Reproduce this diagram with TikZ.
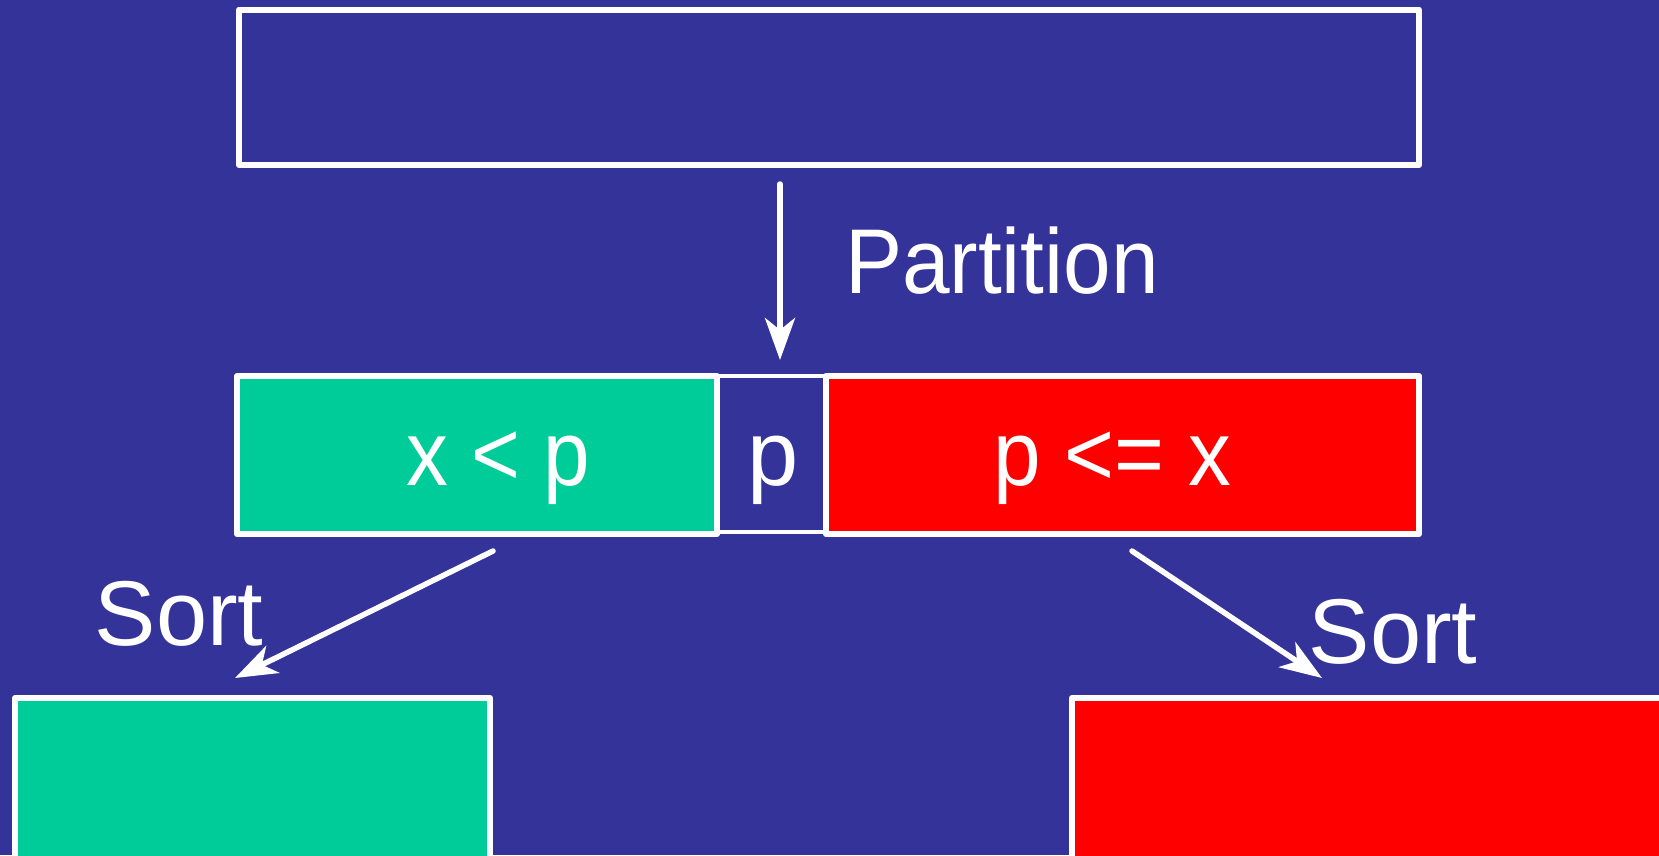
\documentclass[tikz,border=0pt]{standalone}
\usepackage{fontspec}
\setmainfont{Liberation Sans}
\usetikzlibrary{arrows.meta}
\definecolor{bg}{HTML}{333399}
\definecolor{lessgreen}{HTML}{00CC99}
\definecolor{bigred}{HTML}{FF0000}

\begin{document}
\begin{tikzpicture}[x=1pt,y=-1pt,
  box/.style={draw=white,line width=6pt,line join=round,rectangle,
              outer sep=0pt,inner sep=0pt,anchor=north west},
  arr/.style={draw=white,line width=5.5pt,line cap=round,
              -{Stealth[length=42pt,width=30pt,inset=12pt]}},
  lbl/.style={text=white,font=\fontsize{92}{110}\selectfont,
              anchor=base,inner sep=0pt}]
  % background and page size
  \fill[bg] (0,0) rectangle (1659,855);
  \useasboundingbox (0,0) rectangle (1659,855);

  % unsorted array
  \node[box,fill=bg,minimum width=1180pt,minimum height=155.5pt] (top) at (239,9.5) {};

  % partitioned array: pivot cell first, the two parts over it
  \node[box,fill=bg,line width=4pt,minimum width=109pt,minimum height=156pt] (piv) at (717,376) {};
  \node[box,fill=lessgreen,minimum width=480pt,minimum height=158pt] (lt) at (237,376) {};
  \node[box,fill=bigred,minimum width=593pt,minimum height=158pt] (ge) at (826,376) {};

  % sorted parts
  \node[box,fill=lessgreen,minimum width=475pt,minimum height=210pt] (ltsorted) at (15,698) {};
  \node[box,fill=bigred,minimum width=640pt,minimum height=210pt] (gesorted) at (1072,698) {};

  % labels
  \node[lbl] (partlbl) at (1002,293) {\scalebox{0.93}[1]{Partition}};
  \node[lbl] (ltlbl) at (498,485) {\scalebox{0.91}[1]{x < p}};
  \node[lbl] (plbl) at (773,485) {p};
  \node[lbl] (gelbl) at (1112,485) {\scalebox{0.93}[1]{p <= x}};
  \node[lbl] (sortl) at (179,645) {Sort};
  \node[lbl] (sortr) at (1393,663) {Sort};

  % connectors
  \coordinate (ax) at (780,0);
  \draw[arr,shorten <=19pt,shorten >=16pt] (top.south -| ax) -- (piv.north -| ax);
  \coordinate (lstart) at (493,551);
  \coordinate (lend) at (235,678);
  \coordinate (rstart) at (1132,551);
  \coordinate (rend) at (1322,678);
  \draw[arr] (lstart) -- (lend);
  \draw[arr] (rstart) -- (rend);
\end{tikzpicture}
\end{document}
